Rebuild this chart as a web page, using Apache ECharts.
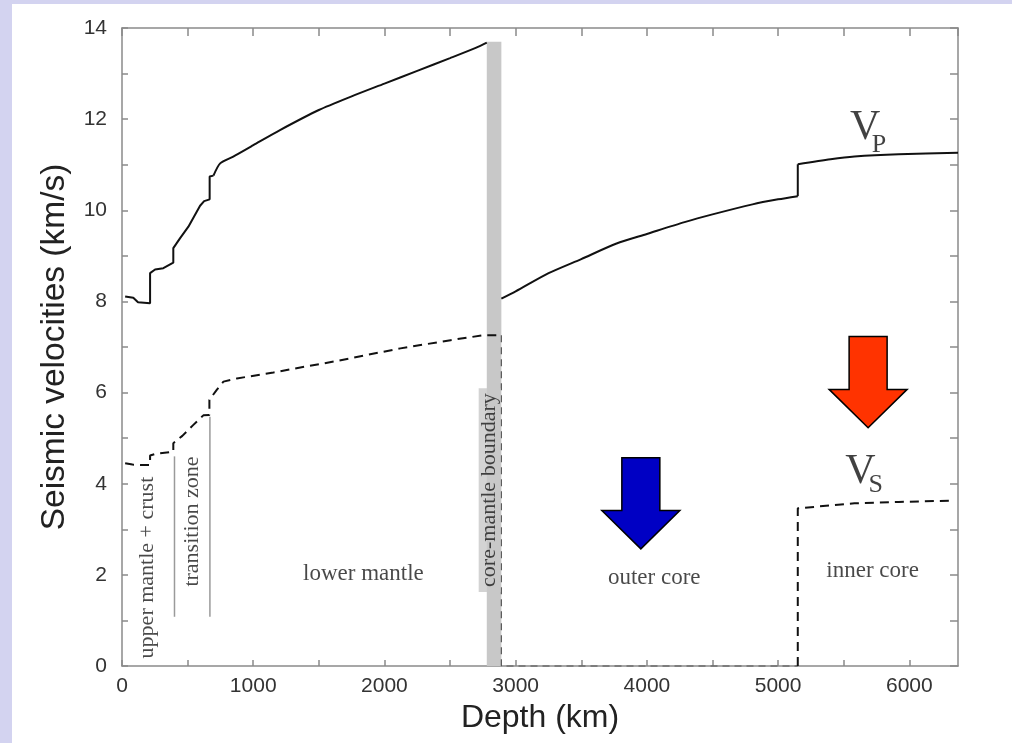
<!DOCTYPE html>
<html>
<head>
<meta charset="utf-8">
<script src="https://cdn.jsdelivr.net/npm/echarts@6/dist/echarts.min.js"></script>
<style>
  html, body { margin: 0; padding: 0; width: 1012px; height: 743px; overflow: hidden; background: #d3d3f0; }
  #chart { position: absolute; left: 12px; top: 4px; width: 1000px; height: 739px; background: #ffffff; }
</style>
</head>
<body>
<div id="chart"></div>
<script>
// P-wave velocity (km/s) against depth (km): crust + upper mantle, transition zone, lower mantle
const vpUpper = [
  [24, 8.11], [86, 8.08], [122, 7.98], [214, 7.96], [214, 8.62], [252, 8.70], [315, 8.73],
  [391, 8.85], [391, 9.17], [417, 9.28], [443, 9.39], [506, 9.64], [595, 10.10], [626, 10.20],
  [668, 10.24], [668, 10.74], [697, 10.76]
];
const vpLower = [
  [697, 10.76], [748, 11.03], [848, 11.18], [1001, 11.43], [1204, 11.76], [1500, 12.20],
  [1750, 12.50], [2000, 12.78], [2250, 13.06], [2500, 13.34], [2700, 13.57], [2780, 13.68]
];
// P-wave velocity in the outer and inner core
const vpOuterCore = [
  [2891, 8.06], [3000, 8.22], [3251, 8.62], [3500, 8.93], [3769, 9.27], [4000, 9.48],
  [4287, 9.74], [4500, 9.91], [4805, 10.13], [5000, 10.24], [5150, 10.31]
];
const vpInnerCore = [[5150, 10.31], [5150, 11.01], [5400, 11.12], [5582, 11.18], [5919, 11.23], [6371, 11.26]];

// S-wave velocity (km/s) against depth (km)
const vsMantle = [
  [24, 4.45], [80, 4.42], [150, 4.41], [214, 4.41], [214, 4.62], [260, 4.66], [391, 4.70],
  [391, 4.89], [460, 5.05], [540, 5.28], [620, 5.50], [666, 5.51], [666, 5.84], [722, 6.06],
  [773, 6.24], [875, 6.31], [1154, 6.44], [1359, 6.55], [1613, 6.68], [2122, 6.97],
  [2504, 7.15], [2758, 7.26], [2891, 7.26]
];
const vsOuterCore = [[2891, 7.26], [2891, 0], [5150, 0]];
const vsInnerCore = [[5150, 0], [5150, 3.46], [5582, 3.57], [5919, 3.60], [6330, 3.63]];

// Core-mantle boundary layer: depth range and top velocity
const cmbDepths = [2780, 2891];
const cmbTop = 13.7;

// Upper-mantle / transition-zone separators: [depth, lower velocity, upper velocity]
const separators = [[400, 1.08, 4.6], [670, 1.08, 5.47]];

// Down arrows: [depth, shaft top, head base, tip] in km and km/s
const arrows = [[3954, 4.57, 3.41, 2.57], [5686, 7.23, 6.07, 5.23]];
const arrowColors = ['#0000c4', '#ff3300'];

// Axis ticks
const depthMax = 6371;
const depthStep = 500;
const depthLabelStep = 1000;
const velMax = 14;
const velStep = 1;
const velLabelStep = 2;

// Text annotations: [depth, velocity, text]
const regionLabels = [
  [189, 2.16, 'upper mantle + crust'],
  [537, 3.17, 'transition zone'],
  [1840, 2.02, 'lower mantle'],
  [4056, 1.94, 'outer core'],
  [5720, 2.08, 'inner core']
];
const cmbLabel = [2802, 3.86, 'core-mantle boundary'];
const waveLabels = [
  [5664, 11.80, 'V', 'big'], [5769, 11.42, 'P', 'sub'],
  [5627, 4.25, 'V', 'big'], [5744, 3.96, 'S', 'sub']
];

const axisGray = '#8a8a8a';
const sans = 'Liberation Sans';
const serif = 'Liberation Serif';

function lineSeries(data, style, smooth) {
  return {
    type: 'line', data: data, showSymbol: false, symbol: 'none',
    smooth: smooth ? 0.25 : false,
    lineStyle: style, silent: true, z: 4, clip: false
  };
}

const chart = echarts.init(document.getElementById('chart'), null, { renderer: 'canvas' });

const labelSeriesData = [];
regionLabels.forEach(function (r, i) {
  labelSeriesData.push({
    value: [r[0], r[1]],
    label: { formatter: r[2], rotate: (i < 2) ? 90 : 0, fontFamily: serif, fontSize: (i < 2) ? 22 : 23, color: '#1a1a1a' }
  });
});
labelSeriesData.push({
  value: [cmbLabel[0], cmbLabel[1]],
  label: {
    formatter: cmbLabel[2], rotate: 90, fontFamily: serif, fontSize: 22, color: '#1a1a1a',
    backgroundColor: '#c8c8c8', padding: [0, 5], lineHeight: 22
  }
});
waveLabels.forEach(function (w) {
  labelSeriesData.push({
    value: [w[0], w[1]],
    label: { formatter: w[2], fontFamily: serif, fontSize: w[3] === 'big' ? 42 : 26, color: '#111' }
  });
});

const solid = { color: '#111', width: 2 };
const dashed = { color: '#111', width: 2, type: [9, 6] };

const option = {
  animation: false,
  backgroundColor: '#ffffff',
  grid: { left: 110, right: 54, top: 24, bottom: 77, containLabel: false },
  xAxis: [
    {
      type: 'value', min: 0, max: depthMax, interval: depthStep, position: 'bottom',
      name: 'Depth (km)', nameLocation: 'middle', nameGap: 32,
      nameTextStyle: { fontFamily: sans, fontSize: 32, color: '#222' },
      axisLine: { show: true, onZero: false, lineStyle: { color: axisGray, width: 1.5 } },
      axisTick: { show: true, inside: true, length: 6, lineStyle: { color: axisGray, width: 1.5 } },
      axisLabel: {
        fontFamily: sans, fontSize: 21, color: '#333', margin: 10, showMaxLabel: false,
        formatter: function (v) { return v % depthLabelStep === 0 ? String(v) : ''; }
      },
      splitLine: { show: false }
    },
    {
      type: 'value', min: 0, max: depthMax, interval: depthStep, position: 'top',
      axisLine: { show: true, onZero: false, lineStyle: { color: axisGray, width: 1.5 } },
      axisTick: { show: true, inside: true, length: 8, lineStyle: { color: axisGray, width: 1.5 } },
      axisLabel: { show: false }, splitLine: { show: false }
    }
  ],
  yAxis: [
    {
      type: 'value', min: 0, max: velMax, interval: velStep, position: 'left',
      name: 'Seismic velocities (km/s)', nameLocation: 'middle', nameGap: 50, nameRotate: 90,
      nameTextStyle: { fontFamily: sans, fontSize: 33.5, color: '#222' },
      axisLine: { show: true, onZero: false, lineStyle: { color: axisGray, width: 1.5 } },
      axisTick: { show: true, inside: true, length: 6, lineStyle: { color: axisGray, width: 1.5 } },
      axisLabel: {
        fontFamily: sans, fontSize: 21, color: '#333', margin: 15,
        formatter: function (v) { return v % velLabelStep === 0 ? String(v) : ''; }
      },
      splitLine: { show: false }
    },
    {
      type: 'value', min: 0, max: velMax, interval: velStep, position: 'right',
      axisLine: { show: true, onZero: false, lineStyle: { color: axisGray, width: 1.5 } },
      axisTick: { show: true, inside: true, length: 8, lineStyle: { color: axisGray, width: 1.5 } },
      axisLabel: { show: false }, splitLine: { show: false }
    }
  ],
  series: [
    // core-mantle boundary shading
    {
      type: 'line', data: [], silent: true, z: 1,
      markArea: {
        silent: true,
        itemStyle: { color: '#c8c8c8' },
        data: [[{ coord: [cmbDepths[0], 0] }, { coord: [cmbDepths[1], cmbTop] }]]
      }
    },
    // layer separators
    ...separators.map(function (s) {
      return lineSeries([[s[0], s[1]], [s[0], s[2]]], { color: '#9a9a9a', width: 1.5 });
    }),
    lineSeries(vpUpper, solid),
    lineSeries(vpLower, solid, true),
    lineSeries(vpOuterCore, solid, true),
    lineSeries(vpInnerCore.slice(0, 2), solid),
    lineSeries(vpInnerCore.slice(1), solid, true),
    lineSeries(vsMantle, dashed),
    lineSeries(vsOuterCore, { color: '#555', width: 1.2, type: [7, 5] }),
    lineSeries(vsInnerCore, dashed),
    // arrows
    {
      type: 'custom', silent: true, z: 6,
      data: arrows,
      renderItem: function (params, api) {
        const d = api.value(0);
        const top = api.coord([d, api.value(1)]);
        const base = api.coord([d, api.value(2)]);
        const tip = api.coord([d, api.value(3)]);
        const sw = 19, hw = 39, x = top[0];
        return {
          type: 'polygon',
          shape: { points: [
            [x - sw, top[1]], [x + sw, top[1]], [x + sw, base[1]], [x + hw, base[1]],
            [x, tip[1]], [x - hw, base[1]], [x - sw, base[1]]
          ] },
          style: { fill: arrowColors[params.dataIndex], stroke: '#000', lineWidth: 1.5 }
        };
      }
    },
    // text annotations
    {
      type: 'scatter', silent: true, z: 7,
      symbolSize: 1, itemStyle: { color: 'rgba(0,0,0,0)' },
      label: { show: true, position: 'inside' },
      data: labelSeriesData
    }
  ]
};

chart.setOption(option);
</script>
</body>
</html>
